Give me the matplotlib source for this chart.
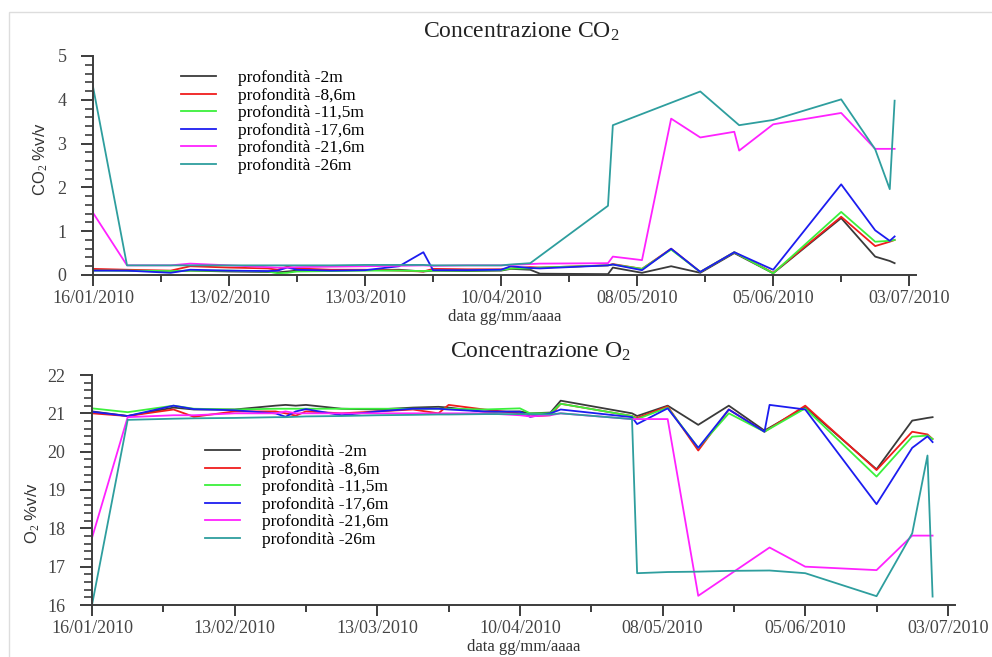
import numpy as np
import matplotlib
matplotlib.use("Agg")
import matplotlib.pyplot as plt
import matplotlib.dates as mdates
from matplotlib.patches import Rectangle

plt.rcParams["mathtext.fontset"] = "custom"
plt.rcParams["mathtext.rm"] = "Liberation Serif"
plt.rcParams["mathtext.it"] = "Liberation Serif:italic"

nan = np.nan

# sampling dates (not every series has a value on every date)
dates = np.array(["2010-01-16", "2010-01-23", "2010-02-01", "2010-02-05", "2010-02-13",
                  "2010-02-21", "2010-02-23", "2010-02-25", "2010-02-27", "2010-03-06",
                  "2010-03-13", "2010-03-20", "2010-03-25", "2010-03-27", "2010-04-03",
                  "2010-04-10", "2010-04-12", "2010-04-16", "2010-04-18", "2010-05-02",
                  "2010-05-03", "2010-05-09", "2010-05-15", "2010-05-21", "2010-05-28",
                  "2010-05-29", "2010-06-05", "2010-06-19", "2010-06-26", "2010-06-29",
                  "2010-06-30"], dtype="datetime64[D]")

labels = ["profondità -2m", "profondità -8,6m", "profondità -11,5m",
          "profondità -17,6m", "profondità -21,6m", "profondità -26m"]
colors = ["#3a3a3a", "#f01c1c", "#3cf03c", "#1c1cf0", "#ff22ff", "#2e9e9e"]

# CO2 %v/v
co2_2m = [0.12, 0.10, 0.08, 0.10, 0.08, 0.07, 0.06, 0.08, 0.10, 0.10, 0.11, 0.12, 0.08, 0.10, 0.09, 0.10,
          0.14, 0.12, 0.03, 0.02, 0.17, 0.05, 0.20, 0.05, 0.50, nan, 0.04, 1.30, 0.42, 0.32, 0.27]
co2_86m = [0.14, 0.12, 0.10, 0.20, 0.17, 0.15, 0.12, 0.19, 0.15, 0.12, 0.12, 0.10, 0.08, 0.14, 0.13, 0.13,
           0.15, 0.18, 0.17, 0.22, 0.25, 0.14, 0.60, 0.07, 0.52, nan, 0.05, 1.33, 0.66, 0.76, 0.80]
co2_115m = [0.10, 0.10, 0.09, 0.10, 0.10, 0.08, 0.04, 0.05, 0.08, 0.09, 0.10, 0.10, 0.09, 0.10, 0.10, 0.11,
            0.15, 0.15, 0.17, 0.22, 0.24, 0.14, 0.58, 0.07, 0.52, nan, 0.04, 1.44, 0.76, 0.78, 0.80]
co2_176m = [0.10, 0.10, 0.05, 0.12, 0.10, 0.09, 0.10, 0.17, 0.12, 0.10, 0.11, 0.20, 0.52, 0.11, 0.11, 0.12,
            0.20, 0.16, 0.15, 0.22, 0.24, 0.11, 0.60, 0.07, 0.52, nan, 0.12, 2.07, 1.02, 0.78, 0.88]
co2_216m = [1.42, 0.22, 0.22, 0.26, 0.22, 0.18, 0.17, 0.17, 0.18, 0.19, 0.20, 0.21, 0.22, 0.21, 0.22, 0.22,
            0.23, 0.25, 0.26, 0.27, 0.42, 0.34, 3.57, 3.14, 3.27, 2.84, 3.44, 3.70, 2.88, 2.88, 2.88]
co2_26m = [4.30, 0.22, 0.22, 0.22, 0.22, 0.22, 0.22, 0.22, 0.22, 0.22, 0.23, 0.23, 0.23, 0.22, 0.22, 0.22,
           0.24, 0.27, nan, 1.58, 3.42, nan, nan, 4.19, nan, 3.42, 3.54, 4.01, 2.87, 1.96, 3.98]

# O2 %v/v
o2_2m = [21.05, 20.93, 21.15, 21.10, 21.10, 21.20, 21.22, 21.20, 21.22, 21.12, 21.10, 21.15, 21.17, 21.15,
         21.04, 21.05, 21.00, 21.02, 21.33, 21.00, 20.93, 21.20, 20.70, 21.20, 20.55, nan, 21.16, 19.54,
         20.81, 20.88, 20.90]
o2_86m = [21.00, 20.93, 21.10, 20.91, 21.05, 21.05, 21.00, 20.94, 21.05, 21.00, 21.05, 21.10, 21.00, 21.22,
          21.10, 21.00, 20.92, 20.95, 21.25, 20.93, 20.88, 21.18, 20.03, 21.10, 20.52, nan, 21.20, 19.52,
          20.52, 20.45, 20.33]
o2_115m = [21.13, 21.03, 21.20, 21.12, 21.10, 21.12, 21.12, 21.12, 21.12, 21.12, 21.12, 21.12, 21.12, 21.12,
           21.10, 21.13, 21.00, 21.00, 21.25, 20.93, 20.85, 21.15, 20.10, 21.00, 20.52, nan, 21.13, 19.35,
           20.39, 20.42, 20.33]
o2_176m = [21.04, 20.93, 21.20, 21.11, 21.08, 21.00, 20.91, 21.05, 21.11, 20.95, 21.05, 21.12, 21.12, 21.10,
           21.05, 21.04, 20.91, 21.00, 21.10, 20.90, 20.72, 21.13, 20.10, 21.10, 20.52, 21.22, 21.10, 18.63,
           20.10, 20.40, 20.25]
o2_216m = [17.75, 20.90, 20.95, 20.95, 21.00, 21.00, 21.05, 21.00, 21.00, 21.00, 21.00, 21.00, 21.00, 21.00,
           21.00, 20.95, 20.92, 20.95, 21.00, 20.85, 20.85, 20.85, 16.24, nan, nan, 17.50, 17.00, 16.91,
           17.81, 17.81, 17.81]
o2_26m = [16.00, 20.83, 20.86, 20.87, 20.88, 20.90, 20.90, 20.91, 20.92, 20.93, 20.95, 20.96, 20.97, 20.97,
          20.98, 20.98, 20.98, 20.97, 21.00, 20.85, 16.83, 16.86, 16.87, 16.89, nan, 16.90, 16.83, 16.23,
          17.87, 19.90, 16.22]

tick_dates = ["2010-01-16", "2010-02-13", "2010-03-13", "2010-04-10", "2010-05-08", "2010-06-05", "2010-07-03"]
tick_labels = ["16/01/2010", "13/02/2010", "13/03/2010", "10/04/2010", "08/05/2010", "05/06/2010", "03/07/2010"]
minor_dates = ["2010-01-30", "2010-02-27", "2010-03-27", "2010-04-24", "2010-05-22", "2010-06-19"]

serif = "Liberation Serif"
gray = "#3c3c3c"

fig = plt.figure(figsize=(9.92, 6.57), dpi=100)
fig.add_artist(Rectangle((9 / 992, -0.1), 2, 1 - 12 / 657 + 0.1, transform=fig.transFigure,
                         fill=False, edgecolor="#dddddd", lw=1))

ax1 = fig.add_axes([93 / 992, 1 - 275 / 657, 823 / 992, 219 / 657])
ax2 = fig.add_axes([92 / 992, 1 - 605 / 657, 863 / 992, 230 / 657])

x0 = mdates.date2num(np.datetime64("2010-01-16"))
xlim = (x0, x0 + 169.4)


def style(ax, ylim, yticks, legend_pos, ylabel, ylabel_xy):
    ax.set_xlim(xlim)
    ax.set_ylim(ylim)
    ax.spines["top"].set_visible(False)
    ax.spines["right"].set_visible(False)
    for s in ("left", "bottom"):
        ax.spines[s].set_color(gray)
        ax.spines[s].set_linewidth(1.4)
    ax.set_xticks(mdates.date2num(np.array(tick_dates, dtype="datetime64[D]")))
    ax.set_xticklabels(tick_labels, family=serif, fontsize=13, color="#444444")
    ax.set_xticks(mdates.date2num(np.array(minor_dates, dtype="datetime64[D]")), minor=True)
    ax.set_yticks(yticks)
    ax.set_yticklabels([str(v) for v in yticks], family=serif, fontsize=13, color="#444444")
    ax.set_yticks(np.arange(ylim[0], ylim[1] + 0.01, 0.2), minor=True)
    ax.tick_params(axis="x", which="major", length=8, width=1.4, color=gray, pad=3)
    ax.tick_params(axis="x", which="minor", length=5, width=1.4, color=gray)
    ax.tick_params(axis="y", which="major", length=9, width=1.4, color=gray, pad=10)
    ax.tick_params(axis="y", which="minor", length=6, width=1.2, color=gray)
    ax.set_xlabel("data gg/mm/aaaa", family=serif, fontsize=12, color="#333333", labelpad=1)
    ax.set_ylabel(ylabel, family="Liberation Sans", fontsize=12, color="#333333")
    ax.yaxis.set_label_coords(*ylabel_xy)
    ax.legend(loc="upper left", bbox_to_anchor=legend_pos, bbox_transform=fig.transFigure,
              frameon=False, prop={"family": serif, "size": 12.5}, handlelength=2.0,
              handletextpad=1.3, labelspacing=0.08, borderpad=0, borderaxespad=0)


for vals, lab, c in zip([co2_2m, co2_86m, co2_115m, co2_176m, co2_216m, co2_26m], labels, colors):
    v = np.array(vals, dtype=float)
    m = ~np.isnan(v)
    ax1.plot(dates[m], v[m], color=c, lw=1.3, label=lab)

for vals, lab, c in zip([o2_2m, o2_86m, o2_115m, o2_176m, o2_216m, o2_26m], labels, colors):
    v = np.array(vals, dtype=float)
    m = ~np.isnan(v)
    ax2.plot(dates[m], v[m], color=c, lw=1.3, label=lab)

style(ax1, (0, 5), [0, 1, 2, 3, 4, 5], (181 / 992, 1 - 70 / 657), "CO$_2$ %v/v", (-0.052, 0.53))
style(ax2, (16, 22), [16, 17, 18, 19, 20, 21, 22], (205 / 992, 1 - 444 / 657), "O$_2$ %v/v", (-0.058, 0.40))

fig.text(521 / 992, 1 - 32 / 657, "Concentrazione CO$_2$", family=serif, fontsize=17,
         ha="center", va="center", color="#222222")
fig.text(540 / 992, 1 - 352 / 657, "Concentrazione O$_2$", family=serif, fontsize=17,
         ha="center", va="center", color="#222222")

fig.savefig("out.png", dpi=100)
